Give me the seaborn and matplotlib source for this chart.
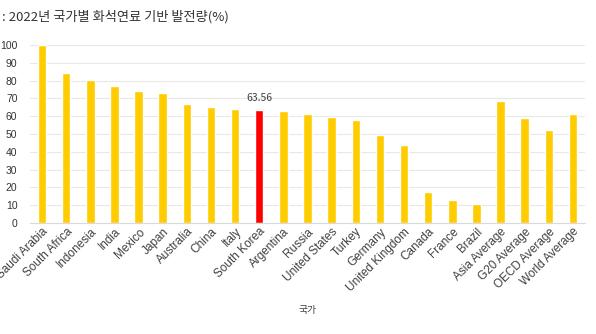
import matplotlib
matplotlib.use("Agg")
import matplotlib.pyplot as plt
import seaborn as sns
import pandas as pd

countries = ["Saudi Arabia", "South Africa", "Indonesia", "India", "Mexico", "Japan",
             "Australia", "China", "Italy", "South Korea", "Argentina", "Russia",
             "United States", "Turkey", "Germany", "United Kingdom", "Canada", "France",
             "Brazil", "Asia Average", "G20 Average", "OECD Average", "World Average"]
fossil_share = [99.8, 84.4, 80.3, 77.1, 74.2, 73.1, 66.9, 65.1, 64.0, 63.56, 63.2, 61.5,
                59.6, 57.9, 49.5, 43.7, 17.3, 12.8, 10.8, 68.3, 59.0, 52.0, 61.0]
highlight = "South Korea"
title_text = ": 2022년 국가별 화석연료 기반 발전량(%)"
x_label = "국가"

df = pd.DataFrame({"country": countries, "share": fossil_share})

sns.set_theme(style="white")
plt.rcParams["font.family"] = ["Liberation Sans", "Noto Sans CJK KR", "DejaVu Sans"]

fig = plt.figure(figsize=(5.96, 3.34), dpi=100)
ax = fig.add_axes([30 / 596, 1 - 223 / 334, 555 / 596, 178 / 334])

palette = {c: ("#FF0000" if c == highlight else "#FFCC00") for c in countries}
sns.barplot(data=df, x="country", y="share", hue="country", palette=palette,
            width=0.35, legend=False, ax=ax, saturation=1)

ax.set_ylim(0, 100)
ax.set_xlim(-0.5, len(countries) - 0.5)
ax.set_yticks(range(0, 101, 10))
ax.yaxis.grid(True, color="#E8E8E8", linewidth=0.8)
ax.set_axisbelow(True)
for side in ["left", "right", "top"]:
    ax.spines[side].set_visible(False)
ax.spines["bottom"].set_color("#D9D9D9")
ax.spines["bottom"].set_linewidth(0.8)

ax.tick_params(axis="y", length=0, labelsize=7.5, colors="#333333", pad=9)
ax.tick_params(axis="x", length=0, labelsize=8.5, colors="#404040", pad=2)
ax.set_xticks(range(len(countries)))
ax.set_xticklabels(countries, rotation=45, ha="right", rotation_mode="anchor")

ax.set_ylabel("")
ax.set_xlabel(x_label, fontsize=7, color="#404040", labelpad=8)

# value label on the highlighted bar
k = countries.index(highlight)
ax.text(k, fossil_share[k] + 4, f"{fossil_share[k]:.2f}", ha="center", va="bottom",
        fontsize=7.5, color="#404040", family=["Noto Sans CJK KR", "DejaVu Sans"])

fig.text(2 / 596, 1 - 17 / 334, title_text, fontsize=9.5, color="#333333",
         va="center", ha="left", family=["Noto Sans CJK KR", "DejaVu Sans"])

fig.savefig("out.png", dpi=100)
